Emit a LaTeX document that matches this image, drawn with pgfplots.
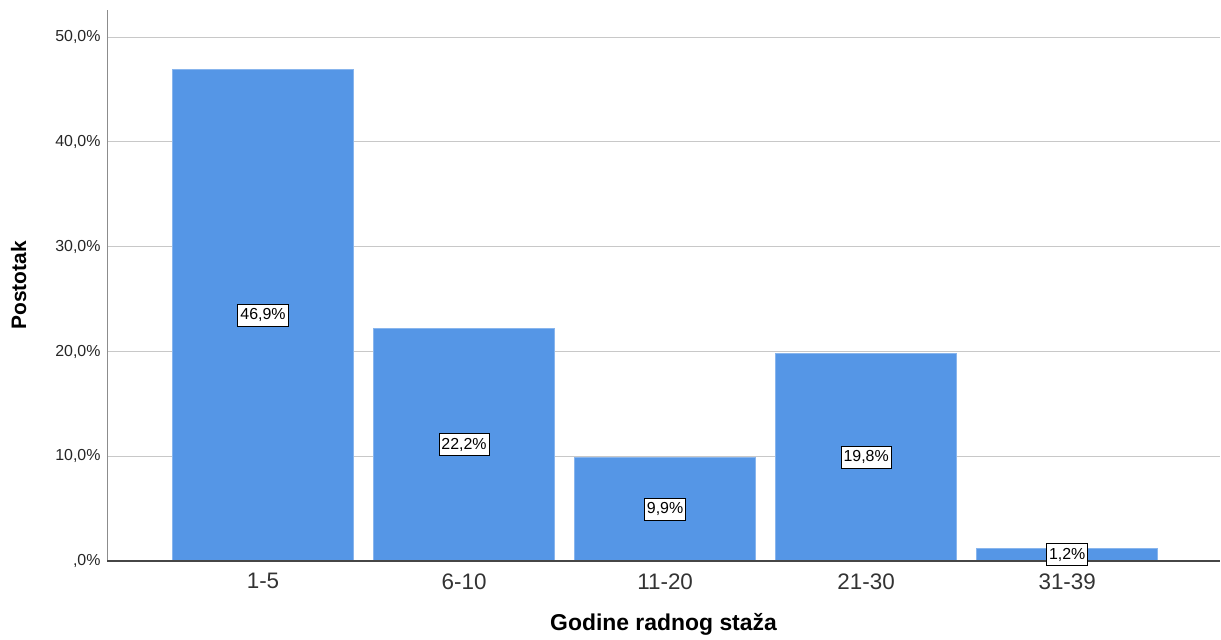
\documentclass[border=0pt]{standalone}
\usepackage{pgfplots}
\pgfplotsset{compat=1.18}
\usepackage{fontspec}
\setmainfont{Liberation Sans}
\usetikzlibrary{calc}

\definecolor{barblue}{RGB}{85,150,230}
\definecolor{gridgray}{RGB}{200,200,200}
\definecolor{yaxisgray}{RGB}{140,140,140}
\definecolor{xaxisgray}{RGB}{70,70,70}

\begin{document}
\begin{tikzpicture}
\begin{axis}[
    scale only axis,
    width=1113bp, height=551bp,
    ybar, bar width=0.9,
    xmin=-0.776, xmax=4.76,
    ymin=0, ymax=52.6,
    xtick={0,1,2,3,4},
    xticklabels={1-5,6-10,11-20,21-30,31-39},
    ytick={0,10,20,30,40,50},
    yticklabels={{,0\%},{10,0\%},{20,0\%},{30,0\%},{40,0\%},{50,0\%}},
    major tick length=0pt,
    axis line style={draw=none},
    ymajorgrids=true,
    grid style={gridgray, line width=1bp},
    x tick label style={font=\fontsize{22.5}{25}\selectfont, text=black!80, yshift=-9bp},
    y tick label style={font=\fontsize{16}{18}\selectfont, text=black!85, xshift=-3bp},
    xlabel={Godine radnog staža},
    ylabel={Postotak},
    xlabel style={font=\bfseries\fontsize{23}{26}\selectfont, yshift=-17bp},
    ylabel style={font=\bfseries\fontsize{21}{24}\selectfont, yshift=22bp},
    point meta=explicit symbolic,
    visualization depends on={0.5*y \as \halfy},
    nodes near coords,
    nodes near coords style={
        anchor=center,
        shift={(axis direction cs:0,-\halfy)},
        draw=black, fill=white, line width=0.9bp,
        inner xsep=2.5bp, inner ysep=4.5bp,
        font=\fontsize{16}{18}\selectfont, text=black
    },
]
\addplot[fill=barblue, draw=barblue!70!white, line width=0.6bp] coordinates {
    (0,46.9) [46,9\%]
    (1,22.2) [22,2\%]
    (2,9.9)  [9,9\%]
    (3,19.8) [19,8\%]
    (4,1.2)  [1,2\%]
};
\draw[yaxisgray, line width=1.5bp] (rel axis cs:0,0) -- (rel axis cs:0,1);
\draw[xaxisgray, line width=1.2bp] (rel axis cs:0,0) -- (rel axis cs:1,0);
\coordinate (ll) at (rel axis cs:0,0);
\coordinate (ur) at (rel axis cs:1,1);
\end{axis}
\pgfresetboundingbox
\path[use as bounding box] ($(ll)+(-107bp,-78bp)$) rectangle ($(ur)+(1bp,10bp)$);
\end{tikzpicture}
\end{document}
